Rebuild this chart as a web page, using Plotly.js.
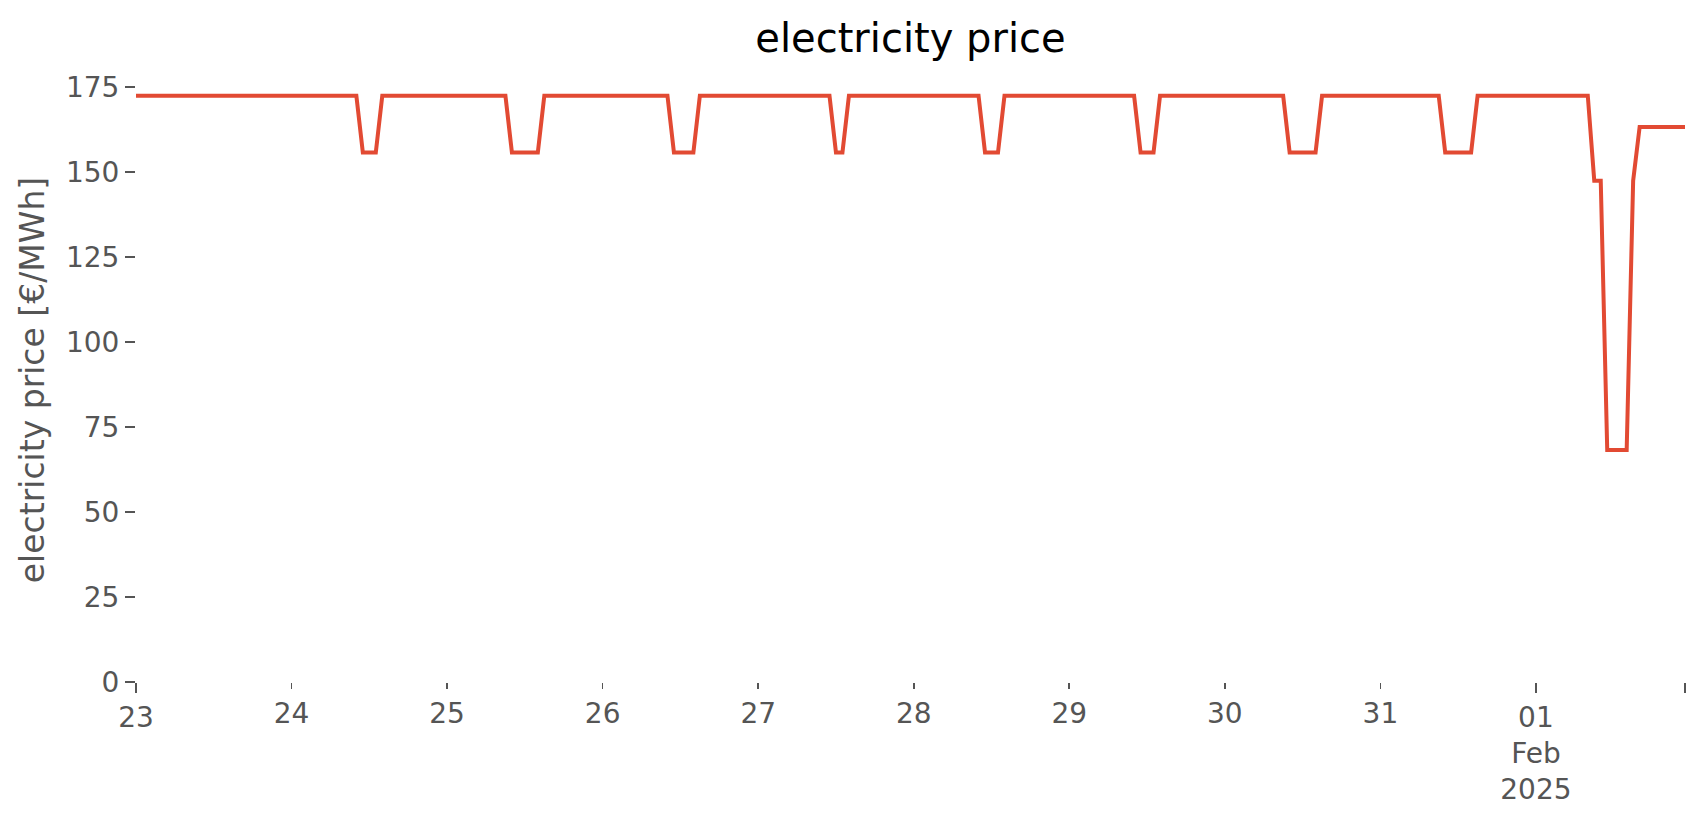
<!DOCTYPE html>
<html><head><meta charset="utf-8">
<script src="https://cdn.plot.ly/plotly-3.0.1.min.js"></script>
<style>html,body{margin:0;padding:0;background:#fff;overflow:hidden}</style>
</head><body><div id="chart" style="width:1706px;height:815px"></div>
<script>
// hourly price series, given at the hours where the value changes
const times = [
  '2025-01-23 00:00','2025-01-24 10:00','2025-01-24 11:00','2025-01-24 13:00','2025-01-24 14:00',
  '2025-01-25 09:00','2025-01-25 10:00','2025-01-25 14:00','2025-01-25 15:00',
  '2025-01-26 10:00','2025-01-26 11:00','2025-01-26 14:00','2025-01-26 15:00',
  '2025-01-27 11:00','2025-01-27 12:00','2025-01-27 13:00','2025-01-27 14:00',
  '2025-01-28 10:00','2025-01-28 11:00','2025-01-28 13:00','2025-01-28 14:00',
  '2025-01-29 10:00','2025-01-29 11:00','2025-01-29 13:00','2025-01-29 14:00',
  '2025-01-30 09:00','2025-01-30 10:00','2025-01-30 14:00','2025-01-30 15:00',
  '2025-01-31 09:00','2025-01-31 10:00','2025-01-31 14:00','2025-01-31 15:00',
  '2025-02-01 08:00','2025-02-01 09:00','2025-02-01 10:00','2025-02-01 11:00',
  '2025-02-01 14:00','2025-02-01 15:00','2025-02-01 16:00','2025-02-01 23:00'
];
const prices = [
  172.4,172.4,155.7,155.7,172.4,
  172.4,155.7,155.7,172.4,
  172.4,155.7,155.7,172.4,
  172.4,155.7,155.7,172.4,
  172.4,155.7,155.7,172.4,
  172.4,155.7,155.7,172.4,
  172.4,155.7,155.7,172.4,
  172.4,155.7,155.7,172.4,
  172.4,147.4,147.4,68.2,
  68.2,147.4,163.2,163.2
];
const dayTickDates = ['2025-01-24','2025-01-25','2025-01-26','2025-01-27','2025-01-28','2025-01-29','2025-01-30','2025-01-31'];
const dayTickLabels = ['24','25','26','27','28','29','30','31'];
const majorTickDates = ['2025-01-23 00:00','2025-02-01 00:00','2025-02-01 23:00'];
const majorTickLabels = ['23','01<br>Feb<br>2025',''];
const yTickValues = [0,25,50,75,100,125,150,175];
const xRange = ['2025-01-23 00:00','2025-02-01 23:00'];
const yRange = [0,177.6];

const FONT = 'DejaVu Sans, sans-serif';
const GRAY = '#555555';

const traces = [
  {x: times, y: prices, type: 'scatter', mode: 'lines', xaxis: 'x', yaxis: 'y',
   line: {color: '#E24A33', width: 4, shape: 'linear'}, hoverinfo: 'x+y', showlegend: false},
  {x: times, y: prices, type: 'scatter', mode: 'lines', xaxis: 'x2', yaxis: 'y',
   line: {color: 'rgba(0,0,0,0)', width: 0}, hoverinfo: 'skip', showlegend: false}
];

const layout = {
  width: 1706, height: 815,
  margin: {l: 136, r: 21, t: 78, b: 133},
  paper_bgcolor: '#ffffff', plot_bgcolor: '#ffffff',
  font: {family: FONT, color: GRAY},
  title: {text: 'electricity price', font: {family: FONT, size: 40, color: '#000000'},
          x: 0.5, xref: 'paper', xanchor: 'center', y: 1 - 38/815, yref: 'container', yanchor: 'middle'},
  xaxis: {type: 'date', range: xRange, showgrid: false, zeroline: false, showline: false,
          tickmode: 'array', tickvals: majorTickDates, ticktext: majorTickLabels,
          ticks: 'outside', ticklen: 10, tickwidth: 2, tickcolor: GRAY,
          tickfont: {family: FONT, size: 28, color: GRAY}, fixedrange: true},
  xaxis2: {type: 'date', range: xRange, overlaying: 'x', anchor: 'y', side: 'bottom', matches: 'x',
          showgrid: false, zeroline: false, showline: false,
          tickmode: 'array', tickvals: dayTickDates, ticktext: dayTickLabels,
          ticks: 'outside', ticklen: 6, tickwidth: 1.7, tickcolor: GRAY,
          tickfont: {family: FONT, size: 28, color: GRAY}},
  yaxis: {range: yRange, showgrid: false, zeroline: false, showline: false,
          tickmode: 'array', tickvals: yTickValues, ticktext: yTickValues.map(String),
          ticks: 'outside', ticklen: 10, tickwidth: 2, tickcolor: GRAY,
          tickfont: {family: FONT, size: 28, color: GRAY},
          title: {text: 'electricity price [€/MWh]', font: {family: FONT, size: 33, color: GRAY}, standoff: 11}}
};

Plotly.newPlot('chart', traces, layout, {displayModeBar: false, staticPlot: true});
</script>
</body></html>
